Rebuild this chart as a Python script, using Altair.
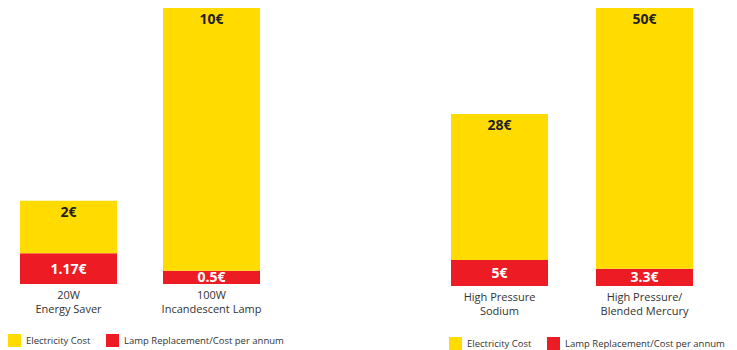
import altair as alt
import pandas as pd

# ---- data ----
left_categories = ["20W\nEnergy Saver", "100W\nIncandescent Lamp"]
left_electricity = [2, 10]
left_lamp = [1.17, 0.5]
left_elec_labels = ["2€", "10€"]
left_lamp_labels = ["1.17€", "0.5€"]

right_categories = ["High Pressure\nSodium", "High Pressure/\nBlended Mercury"]
right_electricity = [28, 50]
right_lamp = [5, 3.3]
right_elec_labels = ["28€", "50€"]
right_lamp_labels = ["5€", "3.3€"]

series = ["Electricity Cost", "Lamp Replacement/Cost per annum"]
colors = ["#FFDB00", "#ED1C24"]

FONT = "Open Sans"


def build_df(cats, elec, lamp, elab, llab):
    rows = []
    for c, e, l, el, ll in zip(cats, elec, lamp, elab, llab):
        rows.append({"cat": c, "series": series[1], "value": l, "order": 0,
                     "label": ll, "ypos": l / 2, "kind": "lamp"})
        rows.append({"cat": c, "series": series[0], "value": e, "order": 1,
                     "label": el, "ypos": l + e, "kind": "elec"})
    return pd.DataFrame(rows)


def panel(cats, elec, lamp, elab, llab, ymax, height, pin, pout, legx, legy):
    df = build_df(cats, elec, lamp, elab, llab)
    xenc = alt.X("cat:N", sort=cats, title=None,
                 scale=alt.Scale(paddingInner=pin, paddingOuter=pout),
                 axis=alt.Axis(domain=False, ticks=False, labelAngle=0,
                               labelPadding=5, labelFont=FONT, labelFontSize=11,
                               labelColor="#333333", labelLineHeight=14,
                               labelExpr="split(datum.label, '\\n')"))
    yscale = alt.Scale(domain=[0, ymax], nice=False, zero=True)
    bars = alt.Chart(df).mark_bar().encode(
        x=xenc,
        y=alt.Y("value:Q", stack="zero", scale=yscale, axis=None),
        color=alt.Color("series:N",
                        scale=alt.Scale(domain=series, range=colors),
                        legend=alt.Legend(title=None, orient="none",
                                          legendX=legx, legendY=legy,
                                          direction="horizontal",
                                          symbolType="square", symbolSize=169,
                                          symbolStrokeWidth=0, symbolOpacity=1,
                                          labelFont=FONT, labelFontSize=9.5,
                                          labelColor="#333333", labelOffset=5,
                                          labelLimit=400,
                                          columnPadding=15)),
        order=alt.Order("order:Q", sort="ascending"),
    )
    top_text = alt.Chart(df).transform_filter(alt.datum.kind == "elec").mark_text(
        baseline="top", dy=5, font=FONT, fontSize=14, fontWeight="bold",
        color="#231F20"
    ).encode(x=alt.X("cat:N", sort=cats), y=alt.Y("ypos:Q", scale=yscale),
             text="label:N")
    low_text = alt.Chart(df).transform_filter(alt.datum.kind == "lamp").mark_text(
        baseline="middle", dy=1, font=FONT, fontSize=14, fontWeight="bold",
        color="white"
    ).encode(x=alt.X("cat:N", sort=cats), y=alt.Y("ypos:Q", scale=yscale),
             text="label:N")
    return alt.layer(bars, top_text, low_text).properties(width=264, height=height)


left = panel(left_categories, left_electricity, left_lamp, left_elec_labels,
             left_lamp_labels, 10.5, 276, 1 - 97 / 143, 12 / 143, 0, 326)
right = panel(right_categories, right_electricity, right_lamp, right_elec_labels,
              right_lamp_labels, 53.3, 278, 1 - 97 / 145, 11 / 145, 9, 329)

chart = alt.hconcat(left, right, spacing=168, bounds="flush").resolve_scale(
    color="independent", x="independent", y="independent"
).resolve_legend(color="independent").properties(
    padding={"left": 0, "top": 0, "right": 0, "bottom": 0}
).configure_view(stroke=None)

chart.save("out.html", embed_options={"renderer": "svg", "actions": False})
